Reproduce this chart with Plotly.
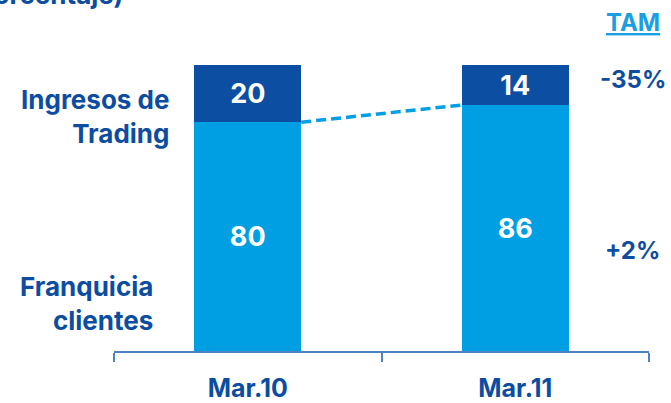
import plotly.graph_objects as go

# Composition of revenue, in percent
periods = ["Mar.10", "Mar.11"]
franquicia_clientes = [80, 86]
ingresos_trading = [20, 14]
tam_trading = "-35%"
tam_franquicia = "+2%"

DARK = "#0B4EA2"
LIGHT = "#009FE3"
TEXT = "#0C4DA2"
FONT = "Inter"
BAR_W = 0.4

fig = go.Figure()
fig.add_trace(go.Bar(
    x=periods, y=franquicia_clientes, width=BAR_W,
    marker=dict(color=LIGHT, line=dict(width=0)),
    text=franquicia_clientes, textposition="inside", insidetextanchor="middle",
    textangle=0,
    textfont=dict(family=FONT, size=27, color="white", weight="bold"),
    name="Franquicia clientes",
))
fig.add_trace(go.Bar(
    x=periods, y=ingresos_trading, width=BAR_W,
    marker=dict(color=DARK, line=dict(width=0)),
    text=ingresos_trading, textposition="inside", insidetextanchor="middle",
    textangle=0,
    textfont=dict(family=FONT, size=27, color="white", weight="bold"),
    name="Ingresos de Trading",
))

# dashed connector between the tops of the client-franchise segments
fig.add_shape(
    type="line", xref="x", yref="y",
    x0=0 + BAR_W / 2, y0=franquicia_clientes[0],
    x1=1 - BAR_W / 2, y1=franquicia_clientes[1],
    line=dict(color=LIGHT, width=3.5, dash="10px,5px"),
)

lbl = dict(family=FONT, size=26, color=TEXT, weight="bold")
pct = dict(family=FONT, size=24, color=TEXT, weight="bold")
annotations = [
    dict(text="Ingresos de<br>Trading", x=0.107, y=0.82, xanchor="right",
         yanchor="middle", align="right", font=lbl),
    dict(text="Franquicia<br>clientes", x=0.077, y=0.166, xanchor="right",
         yanchor="middle", align="right", font=lbl),
    dict(text=tam_trading, x=0.970, y=0.948, xanchor="center",
         yanchor="middle", font=pct),
    dict(text=tam_franquicia, x=0.970, y=0.35, xanchor="center",
         yanchor="middle", font=pct),
    dict(text="(porcentaje)", x=0.021, y=1.248, xanchor="right",
         yanchor="middle", font=lbl),
]
for a in annotations:
    fig.add_annotation(xref="paper", yref="paper", showarrow=False, **a)

fig.add_annotation(
    text="TAM", xref="paper", yref="paper", x=0.970, y=1.147,
    xanchor="center", yanchor="middle", showarrow=False,
    font=dict(family=FONT, size=24, color="#1AA0E2", weight="bold",
              lineposition="under"),
)

fig.update_layout(
    barmode="stack",
    width=671, height=403,
    margin=dict(l=114, r=22, t=65, b=52, autoexpand=False),
    paper_bgcolor="white", plot_bgcolor="white",
    showlegend=False,
    xaxis=dict(
        type="category", range=[-0.5, 1.5], tickson="boundaries",
        automargin=False,
        showline=True, linecolor="#4F82C4", linewidth=1.5,
        ticks="outside", ticklen=9, tickwidth=1.5, tickcolor="#4F82C4",
        tickfont=dict(family=FONT, size=25, color=TEXT, weight="bold"),
        ticklabelstandoff=14,
        showgrid=False, zeroline=False,
    ),
    yaxis=dict(range=[0, 100], visible=False, showgrid=False, zeroline=False,
               automargin=False),
)

fig.write_html("out.html")
